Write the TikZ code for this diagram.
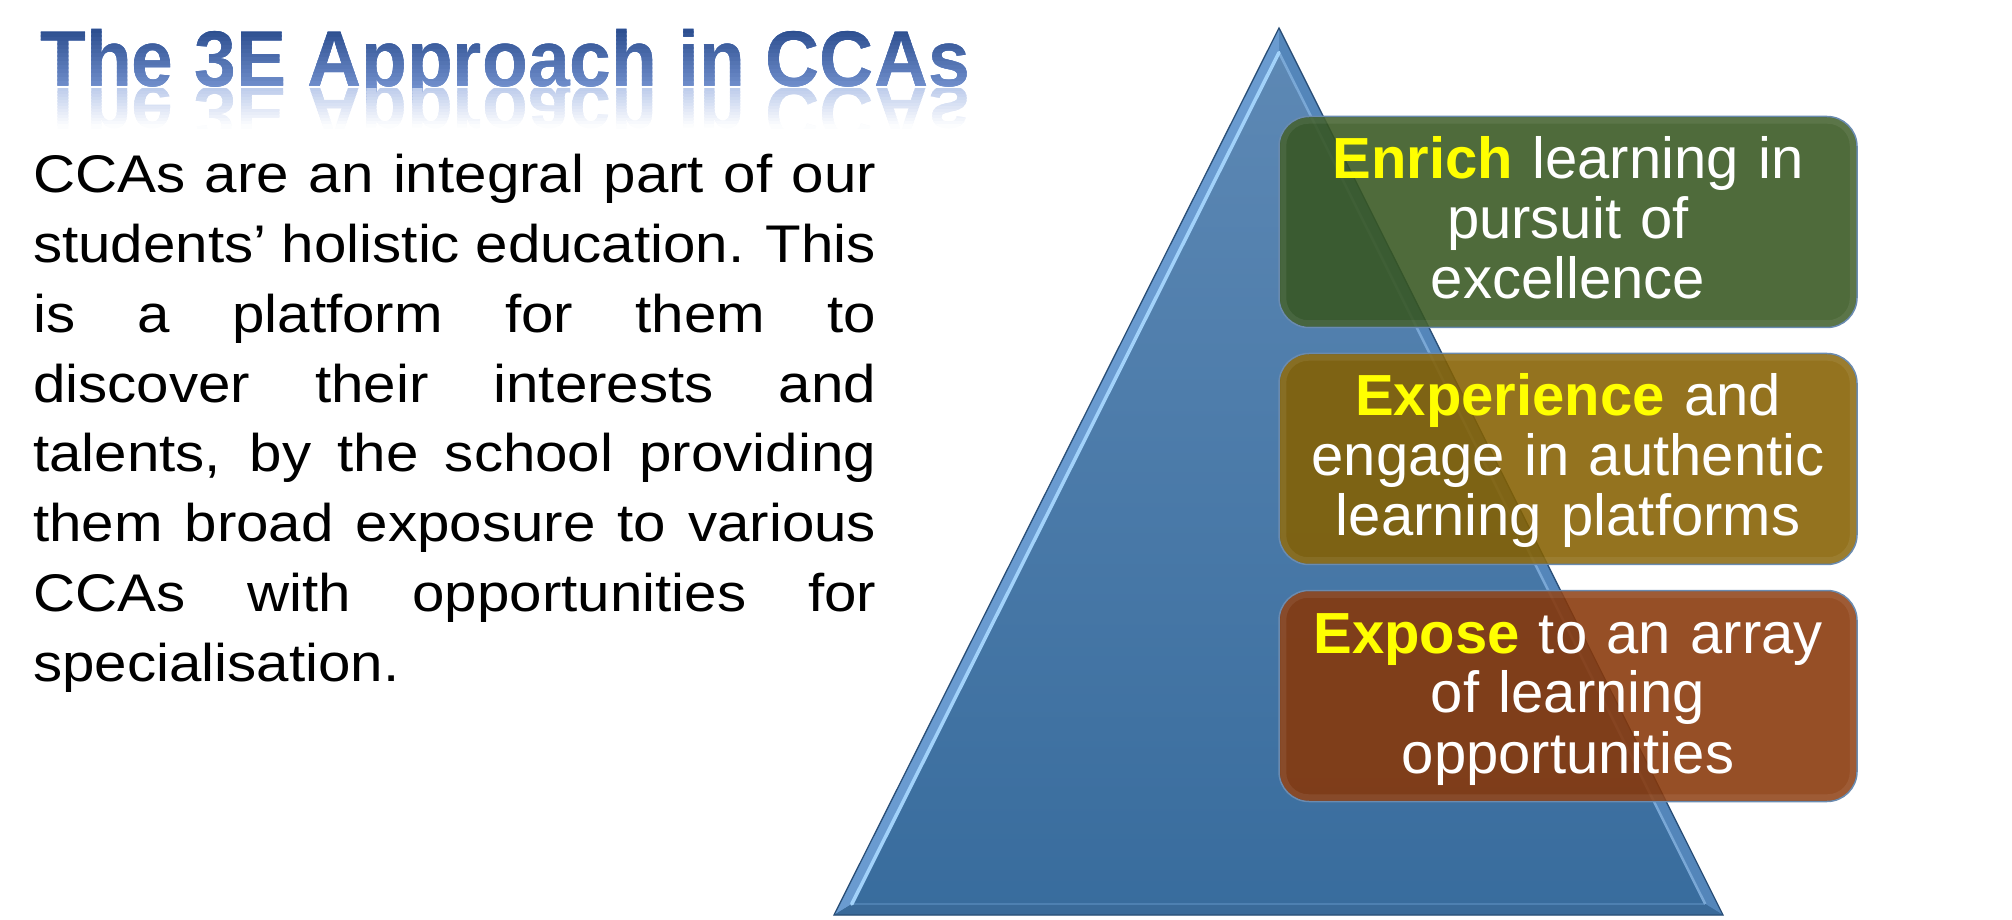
\documentclass[tikz,border=0pt]{standalone}
\usepackage{fontspec}
\setmainfont{Liberation Sans}
\newfontfamily\bodyfam[FakeStretch=1.1]{Liberation Sans}
\newfontfamily\headfam[FakeStretch=0.95]{Liberation Sans}
\usetikzlibrary{calc}

% palette
\definecolor{headMid}{HTML}{4A72C0}
\definecolor{headTop}{HTML}{2B4D8E}
\definecolor{headBot}{HTML}{86A3DF}
\definecolor{headRefl}{HTML}{93ACDF}
\definecolor{pyrTop}{HTML}{5E89B5}
\definecolor{pyrBot}{HTML}{386C9D}
\definecolor{pyrEdge}{HTML}{2A4F77}
\definecolor{pyrLeft}{HTML}{6A9BD0}
\definecolor{pyrLeftHi}{HTML}{A2D2FA}
\definecolor{pyrRight}{HTML}{5486BA}
\definecolor{pyrRightHi}{HTML}{7AA8D6}
\definecolor{pyrBase}{HTML}{3A6A99}
\definecolor{pyrBaseHi}{HTML}{4E80B1}
\definecolor{boxGreen}{HTML}{375620}
\definecolor{boxGold}{HTML}{856000}
\definecolor{boxBrown}{HTML}{883708}
\definecolor{boxEdge}{HTML}{6A8BB0}
\definecolor{keyYellow}{HTML}{FFFF00}

\newcommand\keyword[1]{{\bfseries\color{keyYellow}#1}}
\newcommand\headline{The 3E Approach in CCAs}

\tikzset{
  headstyle/.style={font=\headfam\fontsize{79}{79}\selectfont\bfseries, inner sep=0pt, anchor=base west},
  stagebox/.style={rounded corners=30pt, draw=boxEdge, line width=1.5pt,
    fill opacity=0.88, text opacity=1, minimum width=578pt, minimum height=211pt,
    inner sep=0pt, text width=560pt, align=center, text=white,
    font=\fontsize{58}{60}\selectfont},
  boxglow/.style={rounded corners=25pt, draw=white, draw opacity=0.07, line width=6pt}
}

\begin{document}
\begin{tikzpicture}[x=1pt,y=1pt]
\useasboundingbox (0,0) rectangle (2012,919);

% ---- heading: vertical colour ramp built from clipped bands ----
\node[headstyle, text=headMid] (title) at (40,832) {\headline};
\foreach \i in {0,...,18}{
  \pgfmathsetmacro\pct{100*(\i+0.5)/19}
  \colorlet{bandc}{headTop!\pct!headBot}
  \begin{scope}
    \clip (0,{815+4*\i-0.3}) rectangle (1100,{819+4*\i+0.3});
    \node[headstyle, text=bandc] (band\i) at (40,832) {\headline};
  \end{scope}
}
% mirrored reflection below the baseline, fading out
\foreach \i in {0,...,12}{
  \pgfmathsetmacro\pct{62*(1-(\i+0.5)/13)}
  \colorlet{reflc}{headRefl!\pct!white}
  \begin{scope}
    \clip (0,{830-3*\i+0.3}) rectangle (1100,{827-3*\i-0.3});
    \node[headstyle, text=reflc, yscale=-1] (refl\i) at (40,832) {\headline};
  \end{scope}
}

% ---- body paragraph ----
\node[anchor=north west, inner sep=0pt, align=left,
      font=\bodyfam\fontsize{53}{69.8}\selectfont] (body) at (33,765)
  {\makebox[843pt][s]{CCAs are an integral part of our}\\
   \makebox[843pt][s]{students’ holistic education. This}\\
   \makebox[843pt][s]{is a platform for them to}\\
   \makebox[843pt][s]{discover their interests and}\\
   \makebox[843pt][s]{talents, by the school providing}\\
   \makebox[843pt][s]{them broad exposure to various}\\
   \makebox[843pt][s]{CCAs with opportunities for}\\
   specialisation.};

% ---- pyramid ----
\coordinate (apex) at (1279,891);
\coordinate (bl) at (834,4);
\coordinate (br) at (1723,4);
\coordinate (inc) at (1278.5,278.4);
\coordinate (apexI) at ($(inc)!0.96!(apex)$);
\coordinate (blI) at ($(inc)!0.96!(bl)$);
\coordinate (brI) at ($(inc)!0.96!(br)$);
\shade[top color=pyrTop, bottom color=pyrBot] (apex) -- (bl) -- (br) -- cycle;
\fill[pyrLeft] (apex) -- (bl) -- (blI) -- (apexI) -- cycle;
\fill[pyrRight] (apex) -- (apexI) -- (brI) -- (br) -- cycle;
\fill[pyrBase] (bl) -- (br) -- (brI) -- (blI) -- cycle;
\draw[pyrBaseHi, line width=2pt] (blI) -- (brI);
\draw[pyrRightHi, line width=2.5pt] (apexI) -- (brI);
\draw[pyrLeftHi, line width=3.5pt, line cap=round] (blI) -- (apexI);
\draw[pyrEdge, line width=1.3pt, line join=miter] (apex) -- (bl) -- (br) -- cycle;

% ---- stage boxes ----
\node[stagebox, fill=boxGreen] (enrich) at (1568,697)
  {\rule{0pt}{52pt}\keyword{Enrich} learning in\\ pursuit of\\ excellence\strut};
\node[stagebox, fill=boxGold] (experience) at (1568,460)
  {\rule{0pt}{52pt}\keyword{Experience} and\\ engage in authentic\\ learning platforms\strut};
\node[stagebox, fill=boxBrown] (expose) at (1568,223)
  {\rule{0pt}{52pt}\keyword{Expose} to an array\\ of learning\\ opportunities\strut};
\foreach \b in {enrich,experience,expose}
  \draw[boxglow] ($(\b.south west)+(5,5)$) rectangle ($(\b.north east)-(5,5)$);
\end{tikzpicture}
\end{document}
